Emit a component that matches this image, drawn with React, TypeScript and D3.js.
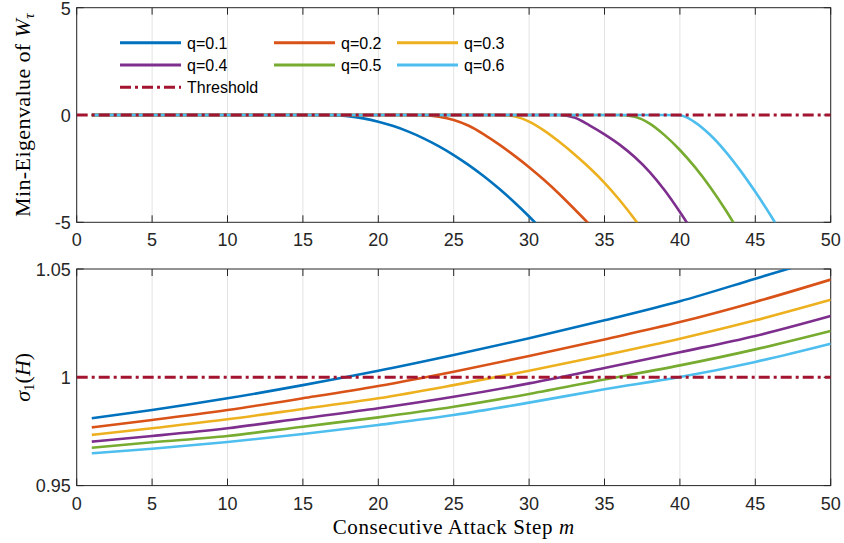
import React from "react";
import * as d3 from "d3";

// ---------------- data ----------------
const seriesLabels = ["q=0.1", "q=0.2", "q=0.3", "q=0.4", "q=0.5", "q=0.6"];
const seriesColors = ["#0072BD", "#D95319", "#EDB120", "#7E2F8E", "#77AC30", "#4DBEEE"];
const thresholdColor = "#A2142F";

const xTicks = [0, 5, 10, 15, 20, 25, 30, 35, 40, 45, 50];
const topYTicks = [-5, 0, 5];
const botYTicks = [0.95, 1, 1.05];
const botYTickLabels = ["0.95", "1", "1.05"];

// Top panel: min eigenvalue is 0 for m = 1 .. onset, then falls (values for onset+1, onset+2, ...)
const topOnset = [16, 22, 28, 32, 36, 39];
const topTail1 = [-0.005, -0.054, -0.156, -0.31, -0.517, -0.775, -1.087, -1.45, -1.866, -2.335, -2.856, -3.43, -4.055, -4.73, -5.46];
const topTail2 = [-0.01, -0.08, -0.23, -0.5, -0.9, -1.37, -1.88, -2.43, -3.03, -3.68, -4.38, -5.1, -5.85];
const topTail3 = [-0.06, -0.31, -0.73, -1.25, -1.83, -2.46, -3.16, -3.96, -4.86, -5.86];
const topTail4 = [-0.12, -0.48, -0.9, -1.38, -1.96, -2.66, -3.52, -4.52, -5.6];
const topTail5 = [-0.08, -0.4, -0.95, -1.63, -2.43, -3.35, -4.39, -5.54];
const topTail6 = [-0.01, -0.34, -0.92, -1.68, -2.58, -3.58, -4.66, -5.81];
const topTails = [topTail1, topTail2, topTail3, topTail4, topTail5, topTail6];
const topThreshold = 0;

// Bottom panel: sigma_1(H) read at these steps
const botSteps = [1, 5, 10, 15, 20, 25, 30, 35, 40, 45, 50];
const bot1 = [0.9811, 0.9849, 0.9903, 0.9964, 1.003, 1.0103, 1.018, 1.0263, 1.0351, 1.0455, 1.056];
const bot2 = [0.9769, 0.9803, 0.9849, 0.9903, 0.996, 1.0026, 1.0098, 1.0175, 1.0255, 1.0348, 1.0451];
const bot3 = [0.9734, 0.9765, 0.9806, 0.9854, 0.9903, 0.9964, 1.003, 1.0102, 1.0178, 1.0263, 1.0358];
const bot4 = [0.9703, 0.9729, 0.9765, 0.9811, 0.9857, 0.991, 0.9972, 1.0043, 1.0116, 1.0191, 1.0283];
const bot5 = [0.9675, 0.97, 0.9729, 0.9772, 0.9815, 0.9864, 0.9923, 0.999, 1.0055, 1.0129, 1.0214];
const bot6 = [0.9649, 0.967, 0.9701, 0.9738, 0.978, 0.9826, 0.9883, 0.9945, 1.0001, 1.0071, 1.0155];
const botSeries = [bot1, bot2, bot3, bot4, bot5, bot6];
const botThreshold = 1;

// ---------------- layout ----------------
const W = 844;
const H = 543;
const left = 76.7;
const right = 830.7;
const topPanel = { y0: 7.7, y1: 222.3 };
const botPanel = { y0: 269, y1: 485.6 };
const axisColor = "#262626";
const gridColor = "#E3E3E3";
const tickLen = 7;
const tickFont = "Arial, 'Liberation Sans', sans-serif";
const labelFont = "'Liberation Serif', 'Times New Roman', serif";
const lineW = 2.6;
const dash = "11,4,3,4";

const x = d3.scaleLinear().domain([0, 50]).range([left, right]);
const yTop = d3.scaleLinear().domain([-5, 5]).range([topPanel.y1, topPanel.y0]);
const yBot = d3.scaleLinear().domain([0.95, 1.05]).range([botPanel.y1, botPanel.y0]);

type Pt = [number, number];

function topPoints(i: number): Pt[] {
  const onset = topOnset[i];
  const pts: Pt[] = [[1, 0], [onset, 0]];
  topTails[i].forEach((v, k) => pts.push([onset + 1 + k, v]));
  return pts;
}

function Axes({ y, y0, y1, yTicks, yLabels, clipId }: any) {
  return (
    <g>
      {xTicks.map((t) => (
        <line key={"g" + t} x1={x(t)} x2={x(t)} y1={y0} y2={y1} stroke={gridColor} strokeWidth={1} />
      ))}
      <rect x={left} y={y0} width={right - left} height={y1 - y0} fill="none" stroke={axisColor} strokeWidth={1} />
      {xTicks.map((t) => (
        <g key={"t" + t}>
          <line x1={x(t)} x2={x(t)} y1={y1} y2={y1 - tickLen} stroke={axisColor} strokeWidth={1} />
          <line x1={x(t)} x2={x(t)} y1={y0} y2={y0 + tickLen} stroke={axisColor} strokeWidth={1} />
          <text x={x(t)} y={y1 + 24} textAnchor="middle" fontFamily={tickFont} fontSize={18} fill={axisColor}>
            {t}
          </text>
        </g>
      ))}
      {yTicks.map((t: number, i: number) => (
        <g key={"y" + t}>
          <line x1={left} x2={left + tickLen} y1={y(t)} y2={y(t)} stroke={axisColor} strokeWidth={1} />
          <line x1={right} x2={right - tickLen} y1={y(t)} y2={y(t)} stroke={axisColor} strokeWidth={1} />
          <text x={left - 6} y={Math.max(y(t) + 6.5, 15)} textAnchor="end" fontFamily={tickFont} fontSize={18} fill={axisColor}>
            {yLabels[i]}
          </text>
        </g>
      ))}
      <clipPath id={clipId}>
        <rect x={left} y={y0} width={right - left} height={y1 - y0} />
      </clipPath>
    </g>
  );
}

export default function App() {
  const lineTop = d3
    .line<Pt>()
    .x((d) => x(d[0]))
    .y((d) => yTop(d[1]))
    .curve(d3.curveMonotoneX);
  const lineBot = d3
    .line<Pt>()
    .x((d) => x(d[0]))
    .y((d) => yBot(d[1]))
    .curve(d3.curveMonotoneX);

  const legendRows = [42.7, 65, 87.3];
  const legendCols = [120, 274, 397];
  const legendItems = seriesLabels.map((l, i) => ({
    label: l,
    color: seriesColors[i],
    col: i % 3,
    row: Math.floor(i / 3),
    dashed: false,
  }));
  legendItems.push({ label: "Threshold", color: thresholdColor, col: 0, row: 2, dashed: true });

  return (
    <svg width={W} height={H} style={{ position: "absolute", left: 0, top: 0, background: "#fff" }}>
      <rect x={0} y={0} width={W} height={H} fill="#fff" />
      {/* top panel */}
      <Axes y={yTop} y0={topPanel.y0} y1={topPanel.y1} yTicks={topYTicks} yLabels={topYTicks.map(String)} clipId="clipTop" />
      <g clipPath="url(#clipTop)">
        {seriesColors.map((c, i) => (
          <path key={i} d={lineTop(topPoints(i)) || ""} fill="none" stroke={c} strokeWidth={lineW} strokeLinejoin="round" />
        ))}
        <line
          x1={x(0)}
          x2={x(50)}
          y1={yTop(topThreshold)}
          y2={yTop(topThreshold)}
          stroke={thresholdColor}
          strokeWidth={3}
          strokeDasharray={dash}
        />
      </g>
      {legendItems.map((it, i) => (
        <g key={"l" + i}>
          <line
            x1={legendCols[it.col]}
            x2={legendCols[it.col] + 61}
            y1={legendRows[it.row]}
            y2={legendRows[it.row]}
            stroke={it.color}
            strokeWidth={3}
            strokeDasharray={it.dashed ? dash : undefined}
          />
          <text x={legendCols[it.col] + 67} y={legendRows[it.row] + 5.8} fontFamily={tickFont} fontSize={16} fill="#000">
            {it.label}
          </text>
        </g>
      ))}
      <text
        transform={`translate(30,${(topPanel.y0 + topPanel.y1) / 2}) rotate(-90)`}
        textAnchor="middle"
        fontFamily={labelFont}
        fontSize={22}
        letterSpacing={0.4}
        fill="#000"
      >
        Min-Eigenvalue of <tspan fontStyle="italic">W</tspan>
        <tspan fontStyle="italic" fontSize={15} dy={4}>τ</tspan>
      </text>

      {/* bottom panel */}
      <Axes y={yBot} y0={botPanel.y0} y1={botPanel.y1} yTicks={botYTicks} yLabels={botYTickLabels} clipId="clipBot" />
      <g clipPath="url(#clipBot)">
        {botSeries.map((s, i) => (
          <path
            key={i}
            d={lineBot(s.map((v, k) => [botSteps[k], v] as Pt)) || ""}
            fill="none"
            stroke={seriesColors[i]}
            strokeWidth={lineW}
          />
        ))}
        <line
          x1={x(0)}
          x2={x(50)}
          y1={yBot(botThreshold)}
          y2={yBot(botThreshold)}
          stroke={thresholdColor}
          strokeWidth={3}
          strokeDasharray={dash}
        />
      </g>
      <text
        transform={`translate(30,${(botPanel.y0 + botPanel.y1) / 2}) rotate(-90)`}
        textAnchor="middle"
        fontFamily={labelFont}
        fontSize={22}
        fill="#000"
      >
        <tspan fontStyle="italic">σ</tspan>
        <tspan fontSize={15} dy={4}>1</tspan>
        <tspan dy={-4}>(</tspan>
        <tspan fontStyle="italic">H</tspan>
        <tspan>)</tspan>
      </text>
      <text
        x={(left + right) / 2}
        y={534}
        textAnchor="middle"
        fontFamily={labelFont}
        fontSize={21}
        letterSpacing={0.6}
        fill="#000"
      >
        Consecutive Attack Step <tspan fontStyle="italic">m</tspan>
      </text>
    </svg>
  );
}
